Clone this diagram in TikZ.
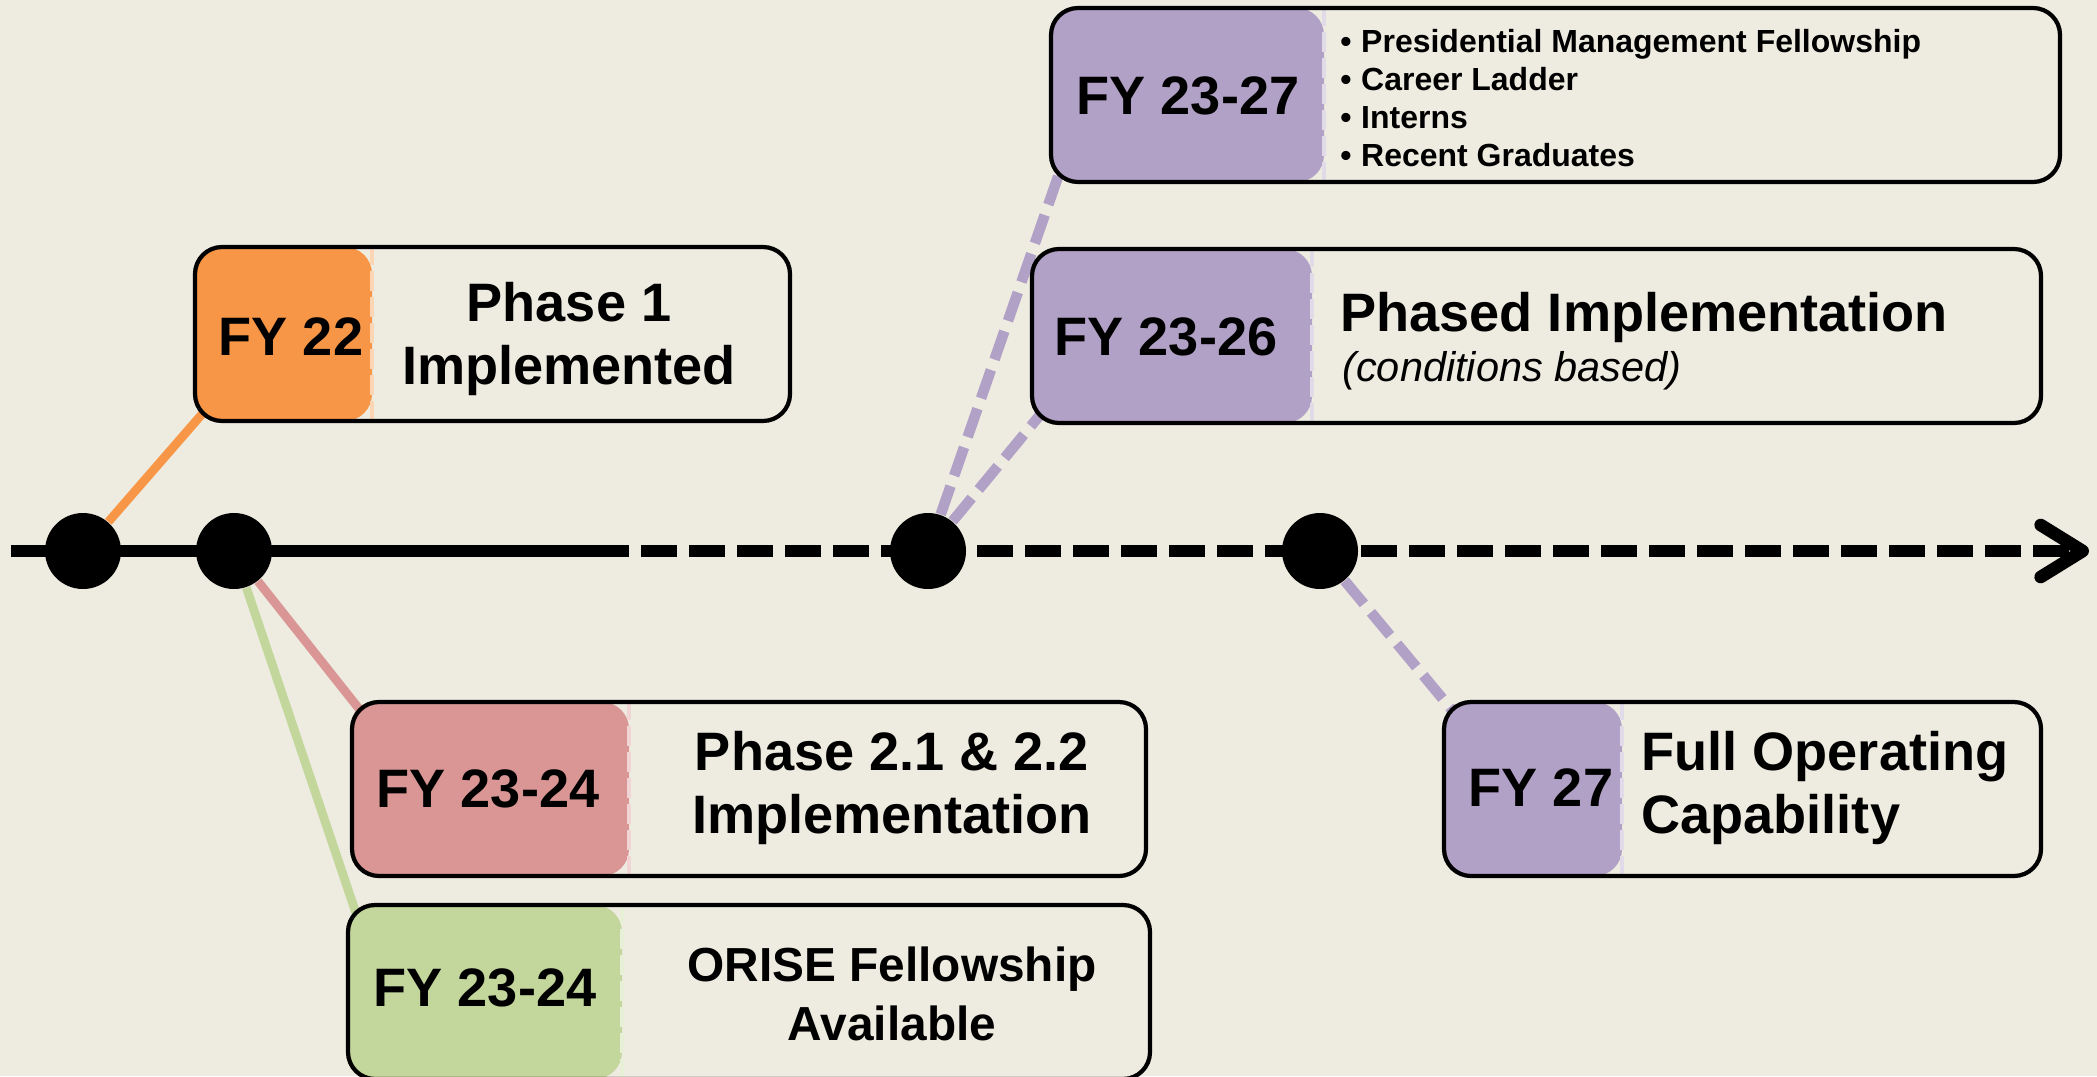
\documentclass[tikz,border=0pt]{standalone}
\usepackage{fontspec}
\setmainfont{Liberation Sans}
\usetikzlibrary{calc,arrows.meta}
\definecolor{cream}{HTML}{EEECE1}
\definecolor{fyorange}{HTML}{F79646}
\definecolor{fyred}{HTML}{D99694}
\definecolor{fygreen}{HTML}{C3D69B}
\definecolor{fypurple}{HTML}{B2A1C7}
\pgfdeclarelayer{back}\pgfdeclarelayer{links}
\pgfsetlayers{back,links,main}

\begin{document}
\begin{tikzpicture}[every node/.style={font=\bfseries\fontsize{15.4}{17.9}\selectfont,align=center},
 phasebox/.style 2 args={draw=black,line width=1.2pt,rounded corners=0.27cm,fill=cream,minimum height=1.74cm,inner sep=0pt,
  path picture={\fill[#1] (path picture bounding box.south west) rectangle ([xshift=#2]path picture bounding box.north west);
  \draw[#1!40!white,line width=0.9pt,dash pattern=on 2mm off 0.6mm] ([xshift=#2]path picture bounding box.south west)--([xshift=#2]path picture bounding box.north west);}},
 tdot/.style={circle,fill=black,minimum size=0.76cm,inner sep=0pt},
 link/.style={line width=2.5pt},
 dlink/.style={line width=3pt,fypurple,dash pattern=on 0.3cm off 0.11cm}]
\useasboundingbox (0,0) rectangle (20.97,10.76);
\begin{pgfonlayer}{back}\fill[cream] (0,0) rectangle (20.97,10.76);\end{pgfonlayer}
% timeline
\coordinate (ta) at (0.11,5.25);\coordinate (tb) at (6.29,5.25);\coordinate (tc) at (20.89,5.25);
\draw[line width=3.6pt] (ta)--(tb);
\draw[line width=3.6pt,dash pattern=on 0.36cm off 0.12cm,dash phase=0.36cm,-{Straight Barb[length=0.42cm,width=0.52cm,line cap=round,line join=round]}] (tb)--(tc);
\node[tdot] (d1) at (0.83,5.25) {};\node[tdot] (d2) at (2.34,5.25) {};
\node[tdot] (d3) at (9.28,5.25) {};\node[tdot] (d4) at (13.20,5.25) {};
% boxes above
\node[phasebox={fyorange}{1.77cm},minimum width=5.95cm] (p1) at (4.925,7.42) {};
\node (y1) at (2.91,7.39) {FY 22};
\node (t1) at (5.69,7.37) {Phase 1\\Implemented};
\node[phasebox={fypurple}{2.73cm},minimum width=10.09cm] (p2) at (15.555,9.81) {};
\node (y2) at (11.88,9.80) {FY 23-27};
\node[anchor=west,align=left,font=\bfseries\fontsize{9.1}{10.8}\selectfont] (t2) at (13.28,9.78) {\textbullet\hspace{0.3em}Presidential Management Fellowship\\\textbullet\hspace{0.3em}Career Ladder\\\textbullet\hspace{0.3em}Interns\\\textbullet\hspace{0.3em}Recent Graduates};
\node[phasebox={fypurple}{2.80cm},minimum width=10.09cm] (p3) at (15.365,7.40) {};
\node (y3) at (11.66,7.39) {FY 23-26};
\node[anchor=base west] (t3) at (13.28,7.45) {Phased Implementation};
\node[anchor=base west,font=\itshape\fontsize{11.8}{14}\selectfont] (c3) at (13.30,6.95) {(conditions based)};
% boxes below
\node[phasebox={fyred}{2.77cm},minimum width=7.94cm] (p4) at (7.49,2.87) {};
\node (y4) at (4.88,2.87) {FY 23-24};
\node (t4) at (8.92,2.88) {Phase 2.1 \& 2.2\\Implementation};
\node[phasebox={fygreen}{2.74cm},minimum width=8.02cm] (p5) at (7.49,0.84) {};
\node (y5) at (4.85,0.88) {FY 23-24};
\node[font=\bfseries\fontsize{13.6}{16.7}\selectfont] (t5) at (8.92,0.82) {ORISE Fellowship\\Available};
\node[phasebox={fypurple}{1.78cm},minimum width=5.97cm] (p6) at (17.425,2.87) {};
\node (y6) at (15.41,2.88) {FY 27};
\node[anchor=west,align=left] (t6) at (16.29,2.88) {Full Operating\\Capability};
% links
\begin{pgfonlayer}{links}
\draw[link,fyorange] (d1)--($(p1.south west)+(0.1,0.1)$);
\draw[link,fyred] (d2)--($(p4.north west)+(0.1,-0.1)$);
\draw[link,fygreen] (d2)--($(p5.north west)+(0.1,-0.1)$);
\draw[dlink] (d3)--($(p2.south west)+(0.1,0.1)$);
\draw[dlink] (d3)--($(p3.south west)+(0.1,0.1)$);
\draw[dlink] (d4)--($(p6.north west)+(0.1,-0.1)$);
\end{pgfonlayer}
\end{tikzpicture}
\end{document}
